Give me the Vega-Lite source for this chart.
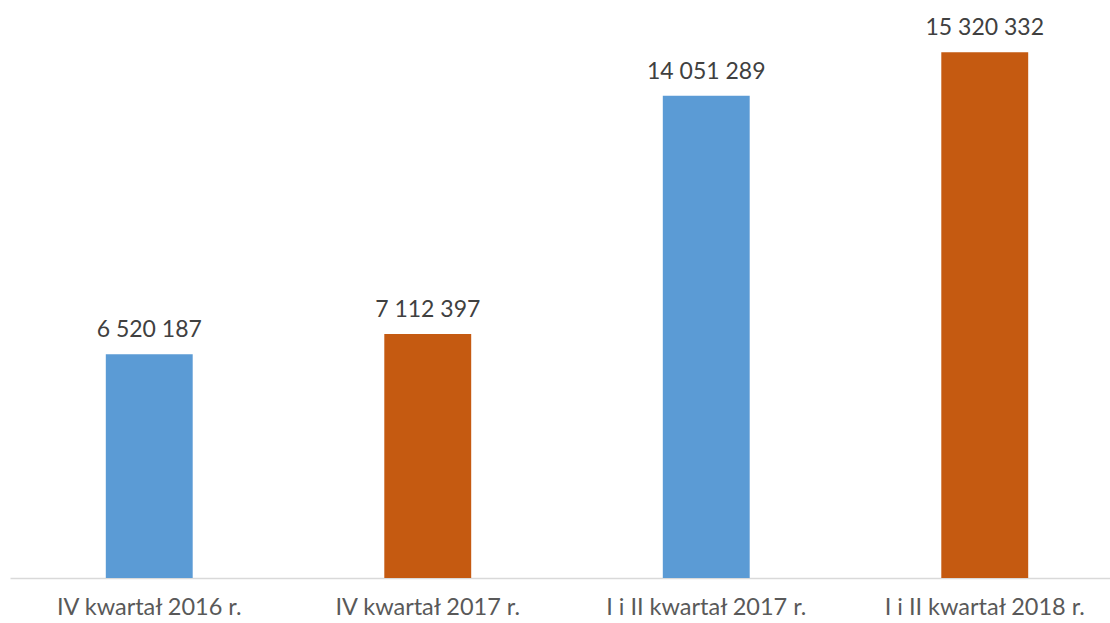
{
  "$schema": "https://vega.github.io/schema/vega-lite/v6.json",
  "autosize": {"type": "none"},
  "width": 1114,
  "height": 578,
  "padding": {"left": 10, "top": 0, "right": 0, "bottom": 45},
  "background": "white",
  "config": {
    "view": {"stroke": null},
    "locale": {"number": {"decimal": ",", "thousands": " ", "grouping": [3], "currency": ["", " zł"]}}
  },
  "data": {
    "values": [
      {"okres": "IV kwartał 2016 r.", "wartosc": 6520187, "grupa": "a"},
      {"okres": "IV kwartał 2017 r.", "wartosc": 7112397, "grupa": "b"},
      {"okres": "I i II kwartał 2017 r.", "wartosc": 14051289, "grupa": "a"},
      {"okres": "I i II kwartał 2018 r.", "wartosc": 15320332, "grupa": "b"}
    ]
  },
  "encoding": {
    "x": {
      "field": "okres", "type": "nominal", "sort": null,
      "scale": {"paddingInner": 0.688, "paddingOuter": 0.344},
      "axis": {
        "title": null, "labelAngle": 0, "ticks": false,
        "domainColor": "#D9D9D9", "domainWidth": 1.5,
        "labelFont": "Lato", "labelFontSize": 23.5, "labelColor": "#595959",
        "labelPadding": 17, "labelLimit": 0, "labelOverlap": false
      }
    },
    "y": {
      "field": "wartosc", "type": "quantitative",
      "scale": {"domain": [0, 16840000], "nice": false},
      "axis": null
    }
  },
  "layer": [
    {
      "mark": {"type": "bar"},
      "encoding": {
        "color": {
          "field": "grupa", "type": "nominal",
          "scale": {"domain": ["a", "b"], "range": ["#5B9BD5", "#C55A11"]},
          "legend": null
        }
      }
    },
    {
      "mark": {"type": "text", "baseline": "alphabetic", "dy": -17, "font": "Lato", "fontSize": 23, "color": "#404040"},
      "encoding": {
        "text": {"field": "wartosc", "type": "quantitative", "format": ",d"}
      }
    }
  ]
}
